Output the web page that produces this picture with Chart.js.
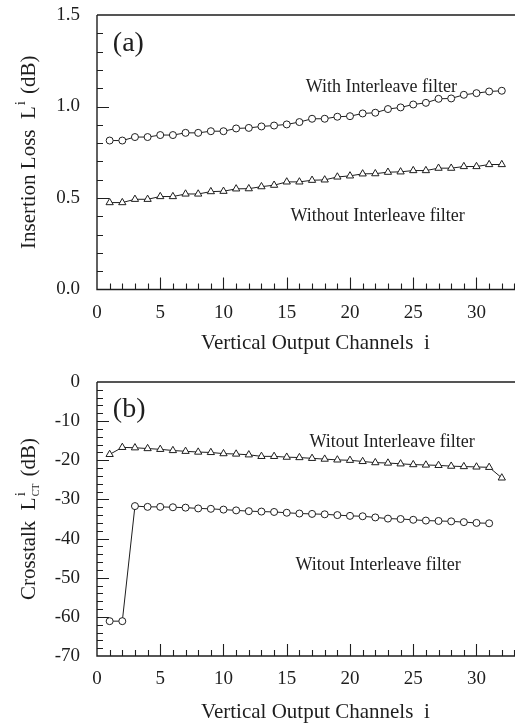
<!DOCTYPE html>
<html><head><meta charset="utf-8">
<script src="https://cdn.jsdelivr.net/npm/chart.js@4/dist/chart.umd.min.js"></script>
<style>
html,body{margin:0;padding:0;background:#fff;}
#wrap{position:relative;width:515px;height:723px;overflow:hidden;}
canvas{position:absolute;left:0;}
</style></head>
<body><div id="wrap">
<canvas id="c1" width="539" height="360" style="top:0"></canvas>
<canvas id="c2" width="539" height="363" style="top:360px"></canvas>
</div>
<script>
// ---------- data ----------
const channels = [1,2,3,4,5,6,7,8,9,10,11,12,13,14,15,16,17,18,19,20,21,22,23,24,25,26,27,28,29,30,31,32];
const lossWithFilter = [0.814,0.814,0.833,0.833,0.844,0.844,0.856,0.856,0.865,0.865,0.880,0.883,0.891,0.896,0.902,0.915,
  0.933,0.933,0.944,0.947,0.962,0.966,0.986,0.995,1.011,1.020,1.042,1.044,1.064,1.073,1.082,1.086];
const lossWithoutFilter = [0.475,0.475,0.493,0.493,0.508,0.508,0.522,0.522,0.535,0.537,0.550,0.551,0.562,0.570,0.588,0.588,
  0.597,0.599,0.615,0.621,0.632,0.633,0.641,0.643,0.650,0.650,0.663,0.663,0.672,0.672,0.683,0.683];
const xtTriangle = [-18.5,-16.7,-16.8,-17.0,-17.2,-17.5,-17.7,-17.9,-18.0,-18.3,-18.4,-18.6,-19.0,-19.0,-19.2,-19.3,
  -19.5,-19.7,-19.9,-20.0,-20.3,-20.6,-20.7,-20.9,-21.1,-21.2,-21.3,-21.5,-21.6,-21.7,-21.8,-24.5];
const xtCircle = [-61.1,-61.1,-31.7,-31.9,-31.9,-32.0,-32.1,-32.3,-32.4,-32.6,-32.8,-33.0,-33.1,-33.2,-33.4,-33.6,
  -33.7,-33.8,-34.0,-34.2,-34.3,-34.6,-34.9,-35.0,-35.2,-35.4,-35.5,-35.6,-35.8,-36.0,-36.1];
const xTickLabels = [0,5,10,15,20,25,30];
const lossTickLabels = [0.0,0.5,1.0,1.5];
const xtTickLabels = [0,-10,-20,-30,-40,-50,-60,-70];
const xMinorStep = 1, lossMinorStep = 0.1, xtMinorStep = 2;

const SERIF = '"Liberation Serif", "Times New Roman", serif';
const INK = '#1e1e1e';

function pts(xs, ys){ return ys.map((v,i)=>({x:xs[i], y:v})); }

function ds(data, style, r){
  return {data, showLine:true, borderColor:INK, borderWidth:1, pointStyle:style, pointRadius:r,
    pointBorderColor:INK, pointBorderWidth:1, pointBackgroundColor:'#fff', tension:0, clip:false};
}

// frame + inward ticks + annotations
const framePlugin = {
  id:'frame',
  afterDraw(chart, args, o){
    const {ctx, chartArea:a, scales:{x, y}} = chart;
    ctx.save();
    ctx.strokeStyle = INK; ctx.lineWidth = 1.4;
    ctx.beginPath();
    ctx.moveTo(a.left, a.top); ctx.lineTo(chart.width, a.top);
    ctx.moveTo(a.left, a.top); ctx.lineTo(a.left, a.bottom);
    ctx.lineTo(chart.width, a.bottom);
    ctx.stroke();
    ctx.lineWidth = 1.1;
    ctx.beginPath();
    for (let k = 1; x.min + k*o.xMinor <= x.max; k++){
      const v = x.min + k*o.xMinor;
      const px = Math.round(x.getPixelForValue(v)) + 0.5;
      const major = o.xMajor.some(m => Math.abs(m - v) < 1e-6);
      ctx.moveTo(px, a.bottom); ctx.lineTo(px, a.bottom - (major ? 12 : 6));
    }
    for (let k = 1; y.min + k*o.yMinor < y.max - 1e-6; k++){
      const v = y.min + k*o.yMinor;
      const py = Math.round(y.getPixelForValue(v)) + 0.5;
      const major = o.yMajor.some(m => Math.abs(m - v) < 1e-6);
      ctx.moveTo(a.left, py); ctx.lineTo(a.left + (major ? 12 : 6), py);
    }
    ctx.stroke();
    // annotations
    ctx.fillStyle = INK; ctx.textBaseline = 'alphabetic'; ctx.textAlign = 'left';
    for (const t of o.notes){
      ctx.font = t.size + 'px ' + SERIF;
      ctx.fillText(t.text, x.getPixelForValue(t.x), y.getPixelForValue(t.y));
    }
    // vertical axis title with super/subscripts
    const cy = (a.top + a.bottom) / 2;
    ctx.translate(o.titleX, cy);
    ctx.rotate(-Math.PI/2);
    let total = 0;
    for (const p of o.title){
      ctx.font = p.size + 'px ' + SERIF;
      p.w = p.adv === 'none' ? 0 : ctx.measureText(p.text).width;
      total += p.w + (p.gap || 0);
    }
    let cx = -total/2;
    for (const p of o.title){
      ctx.font = p.size + 'px ' + SERIF;
      ctx.fillText(p.text, cx + (p.dx||0), p.dy || 0);
      cx += p.w + (p.gap || 0);
    }
    ctx.restore();
  }
};

function xScale(h, titlePadBottom){
  return {
    type:'linear', min:0, max:34.53,
    afterFit(s){ s.height = h; s.paddingLeft = 0; s.paddingRight = 0; },
    afterBuildTicks(s){ s.ticks = xTickLabels.map(v => ({value:v})); },
    grid:{display:false, drawTicks:false}, border:{display:false},
    ticks:{padding:12, color:INK, font:{family:SERIF, size:19}, maxRotation:0, autoSkip:false},
    title:{display:true, text:'Vertical Output Channels  i', color:INK,
      font:{family:SERIF, size:21, lineHeight:1}, padding:{top:0, bottom:titlePadBottom}}
  };
}

function yScale(min, max, labels, fmt){
  return {
    type:'linear', min, max,
    afterFit(s){ s.width = 97; s.paddingTop = 0; s.paddingBottom = 0; },
    afterBuildTicks(s){ s.ticks = labels.map(v => ({value:v})); },
    grid:{display:false, drawTicks:false}, border:{display:false},
    ticks:{padding:17, color:INK, font:{family:SERIF, size:19}, callback:fmt}
  };
}

const common = {responsive:false, animation:false, events:[],
  plugins:{legend:{display:false}, tooltip:{enabled:false}}};

new Chart(document.getElementById('c1'), {
  type:'scatter',
  data:{datasets:[ds(pts(channels, lossWithFilter), 'circle', 3.5), ds(pts(channels, lossWithoutFilter), 'triangle', 4.2)]},
  options:Object.assign({}, common, {
    layout:{padding:{top:15, left:0, right:0, bottom:0}},
    scales:{x:xScale(70.5, 6), y:yScale(0, 1.5, lossTickLabels, v => Number(v).toFixed(1))},
    plugins:Object.assign({}, common.plugins, {frame:{
      xMinor:xMinorStep, xMajor:xTickLabels, yMinor:lossMinorStep, yMajor:lossTickLabels,
      notes:[{text:'(a)', x:1.25, y:1.305, size:28},
             {text:'With Interleave filter', x:16.5, y:1.08, size:18},
             {text:'Without Interleave filter', x:15.3, y:0.375, size:18}],
      titleX:35,
      title:[{text:'Insertion Loss  L', size:21},
             {text:'i', size:15, dy:-10, dx:1, gap:8},
             {text:'(dB)', size:21}]
    }})
  }),
  plugins:[framePlugin]
});

new Chart(document.getElementById('c2'), {
  type:'scatter',
  data:{datasets:[ds(pts(channels, xtTriangle), 'triangle', 4.2), ds(pts(channels, xtCircle), 'circle', 3.5)]},
  options:Object.assign({}, common, {
    layout:{padding:{top:22, left:0, right:0, bottom:0}},
    scales:{x:xScale(67, 0), y:yScale(-70, 0, xtTickLabels, v => String(v))},
    plugins:Object.assign({}, common.plugins, {frame:{
      xMinor:xMinorStep, xMajor:xTickLabels, yMinor:xtMinorStep, yMajor:xtTickLabels,
      notes:[{text:'(b)', x:1.25, y:-9.0, size:28},
             {text:'Witout Interleave filter', x:16.8, y:-16.7, size:18},
             {text:'Witout Interleave filter', x:15.7, y:-48.0, size:18}],
      titleX:35,
      title:[{text:'Crosstalk  L', size:21},
             {text:'i', size:15, dy:-10, dx:1, adv:'none'},
             {text:'CT', size:10, dy:4, dx:1, gap:8},
             {text:'(dB)', size:21}]
    }})
  }),
  plugins:[framePlugin]
});
</script>
</body></html>
